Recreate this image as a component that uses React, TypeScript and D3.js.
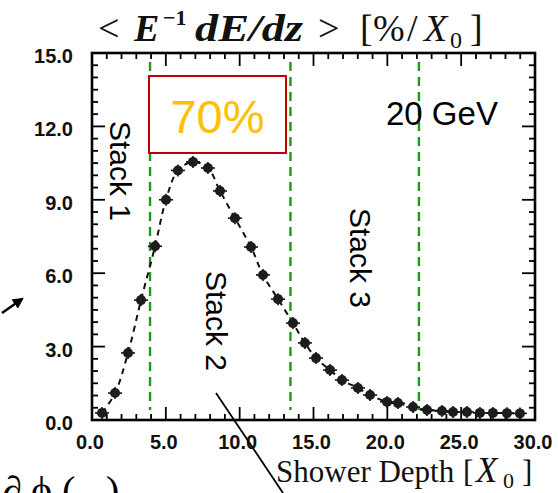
import React from "react";
import * as d3 from "d3";

// Longitudinal shower profile, 20 GeV electrons
const depth = [
  0.68, 1.56, 2.44, 3.32, 4.27, 5.01, 5.82, 6.84, 7.85, 8.67, 9.68, 10.77,
  11.58, 12.6, 13.61, 14.42, 15.17, 16.12, 16.93, 18.01, 18.83, 19.98, 20.72,
  21.74, 22.69, 23.7, 24.45, 25.39, 26.27, 27.15, 28.1, 28.98,
];
const dEdz = [
  0.29, 1.1, 2.74, 4.9, 7.1, 9.0, 10.2, 10.55, 10.3, 9.36, 8.25, 7.07, 5.93,
  4.94, 3.96, 3.15, 2.53, 2.04, 1.63, 1.31, 1.02, 0.74, 0.69, 0.53, 0.41, 0.37,
  0.33, 0.33, 0.29, 0.29, 0.28, 0.27,
];
// Stack boundaries in radiation lengths
const stackBounds = [3.93, 13.44, 22.14];
const stackNames = ["Stack 1", "Stack 2", "Stack 3"];
const xTickValues = [0, 5, 10, 15, 20, 25, 30];
const yTickValues = [0, 3, 6, 9, 12, 15];
const fractionLabel = "70%";
const energyLabel = "20 GeV";

const W = 558;
const H = 493;
const x = d3.scaleLinear().domain([0, 30]).range([92, 535]);
const y = d3.scaleLinear().domain([0, 15]).range([420, 53]);

const serif = "'Liberation Serif', 'Times New Roman', serif";
const sans = "'Liberation Sans', Arial, sans-serif";

export default function App() {
  const [x0, x1] = x.range();
  const [yb, yt] = y.range();

  const xMinor = d3.range(0, 31, 1);
  const yMinor = d3.range(0, 15.01, 0.5);

  const curve = d3
    .line<number>()
    .x((_, i) => x(depth[i]))
    .y((d) => y(d))
    .curve(d3.curveCatmullRom.alpha(0.5))(dEdz) as string;

  const stackPos = [
    { cx: 120, cy: 171 },
    { cx: 216, cy: 321 },
    { cx: 360, cy: 258 },
  ];

  return (
    <svg
      width={W}
      height={H}
      viewBox={`0 0 ${W} ${H}`}
      style={{ position: "absolute", left: 0, top: 0, background: "#fff" }}
    >
      <defs>
        <marker
          id="arrowHead"
          viewBox="0 0 10 10"
          refX="8"
          refY="5"
          markerWidth="4.5"
          markerHeight="4.5"
          orient="auto"
        >
          <path d="M0,0 L10,5 L0,10 z" fill="#000" />
        </marker>
      </defs>

      {/* Title */}
      <g fontFamily={serif} fill="#111" fontSize={38}>
        <text x={98} y={41}>&lt;</text>
        <text x={134} y={41} fontStyle="italic" fontWeight="bold">E</text>
        <text x={163} y={25} fontSize={22} fontWeight="bold">−1</text>
        <text x={195} y={41} fontStyle="italic" fontWeight="bold" textLength={108} lengthAdjust="spacingAndGlyphs">
          dE/dz
        </text>
        <text x={318} y={41}>&gt;</text>
        <text x={360} y={41}>[</text>
        <text x={373} y={41}>%</text>
        <text x={407} y={41}>/</text>
        <text x={424} y={41} fontStyle="italic">X</text>
        <text x={450} y={48} fontSize={24}>0</text>
        <text x={470} y={41}>]</text>
      </g>

      {/* Stack boundaries */}
      {stackBounds.map((b, i) => (
        <line
          key={`sb${i}`}
          x1={x(b)}
          x2={x(b)}
          y1={62}
          y2={410}
          stroke="#1a9a1a"
          strokeWidth={2.4}
          strokeDasharray="9,6"
        />
      ))}

      {/* Frame ticks */}
      <g stroke="#000" strokeWidth={1.8}>
        {xMinor.map((v) => {
          const len = v % 5 === 0 ? 13 : 6;
          return (
            <g key={`xt${v}`}>
              <line x1={x(v)} x2={x(v)} y1={yb} y2={yb - len} />
              <line x1={x(v)} x2={x(v)} y1={yt} y2={yt + len} />
            </g>
          );
        })}
        {yMinor.map((v) => {
          const len = Math.abs(v % 3) < 1e-6 ? 13 : 6;
          return (
            <g key={`yt${v}`}>
              <line x1={x0} x2={x0 + len} y1={y(v)} y2={y(v)} />
              <line x1={x1} x2={x1 - len} y1={y(v)} y2={y(v)} />
            </g>
          );
        })}
      </g>
      <rect
        x={x0}
        y={yt}
        width={x1 - x0}
        height={yb - yt}
        fill="none"
        stroke="#000"
        strokeWidth={2.6}
      />

      {/* Tick labels */}
      <g fontFamily={sans} fontWeight="bold" fontSize={20} fill="#111">
        {yTickValues.map((v) => (
          <text key={`yl${v}`} x={73} y={y(v) + 3} textAnchor="end" dominantBaseline="central">
            {v.toFixed(1)}
          </text>
        ))}
        {xTickValues.map((v) => (
          <text key={`xl${v}`} x={x(v) - 2} y={449} textAnchor="middle">
            {v.toFixed(1)}
          </text>
        ))}
      </g>

      {/* Axis title */}
      <g fontFamily={serif} fontSize={31} fill="#111">
        <text x={276} y={482}>Shower Depth</text>
        <text x={463} y={482}>[</text>
        <text x={476} y={482} fontSize={35} fontStyle="italic">X</text>
        <text x={503} y={488} fontSize={22}>0</text>
        <text x={522} y={482}>]</text>
      </g>

      {/* Profile curve */}
      <path d={curve} fill="none" stroke="#111" strokeWidth={2} strokeDasharray="6,5" />

      {/* Data points with error bars */}
      <g>
        {dEdz.map((v, i) => {
          const cx = x(depth[i]);
          const cy = y(v);
          return (
            <g key={`p${i}`}>
              <line x1={cx - 7} x2={cx + 7} y1={cy} y2={cy} stroke="#111" strokeWidth={1.6} />
              <line x1={cx} x2={cx} y1={cy - 6} y2={cy + 6} stroke="#111" strokeWidth={1.6} />
              <circle cx={cx} cy={cy} r={5} fill="#1c1c1c" />
            </g>
          );
        })}
      </g>

      {/* Stack labels */}
      {stackNames.map((s, i) => (
        <text
          key={s}
          transform={`translate(${stackPos[i].cx},${stackPos[i].cy}) rotate(90)`}
          textAnchor="middle"
          dominantBaseline="central"
          fontFamily={sans}
          fontSize={30}
          fill="#000"
        >
          {s}
        </text>
      ))}

      <text x={386} y={125} fontFamily={sans} fontSize={33} fill="#000">
        {energyLabel}
      </text>

      {/* Containment box */}
      <rect x={149} y={76} width={137} height={77} fill="#fff" stroke="#c00000" strokeWidth={2} />
      <text
        x={217.5}
        y={133}
        textAnchor="middle"
        fontFamily={sans}
        fontSize={47}
        fill="#ffc000"
      >
        {fractionLabel}
      </text>

      {/* Pointer lines */}
      <line x1={216} y1={393} x2={283} y2={493} stroke="#000" strokeWidth={1.8} />
      <line x1={2} y1={313} x2={22} y2={299} stroke="#000" strokeWidth={2.5} markerEnd="url(#arrowHead)" />

      {/* Cut-off formula at the lower left */}
      <g fontFamily={serif} fontSize={40} fill="#000">
        <text x={2} y={504}>∂</text>
        <text x={31} y={504}>ϕ</text>
        <text x={62} y={504}>(</text>
        <text x={106} y={504}>)</text>
      </g>
    </svg>
  );
}
